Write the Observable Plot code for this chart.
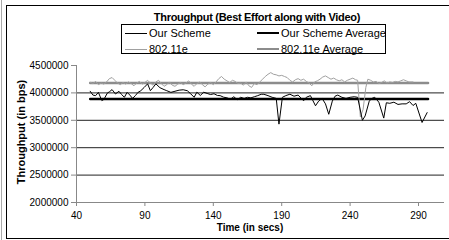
<!DOCTYPE html>
<html>
<head>
<meta charset="utf-8">
<script src="https://cdn.jsdelivr.net/npm/d3@7"></script>
<script src="https://cdn.jsdelivr.net/npm/@observablehq/plot@0.6"></script>
<style>
  html, body { margin: 0; padding: 0; background: #fff; overflow: hidden; }
  #wrap { position: relative; width: 449px; height: 240px; overflow: hidden; font-family: "Liberation Sans", Arial, sans-serif; color: #000; }
  #wrap svg { position: absolute; left: 0; top: 0; }
  .abs { position: absolute; white-space: nowrap; }
  .title { left: 257px; top: 11px; transform: translateX(-50%); font-weight: bold; font-size: 11px; letter-spacing: -0.3px; line-height: 13px; }
  .ylab { left: 21px; top: 132px; transform: translate(-50%, -50%) rotate(-90deg); font-weight: bold; font-size: 11px; line-height: 12px; }
  .xlab { left: 250px; top: 222px; transform: translateX(-50%); font-weight: bold; font-size: 10px; line-height: 12px; }
  .legend { left: 121px; top: 24px; width: 263px; height: 28px; border: 1px solid #000; background: #fff; }
  .lt { font-size: 11px; line-height: 12px; }
  .sw { position: absolute; height: 0; }
</style>
</head>
<body>
<div id="wrap">
  <div class="abs" style="left:1px;top:0;width:1px;height:240px;background:#aaa"></div>
  <div class="abs" style="left:6px;top:5px;width:450px;height:232px;border-left:1px solid #000;border-top:1px solid #000;border-bottom:1px solid #000;"></div>
</div>
<script>
// ---- data ----
const xTicks = [40, 90, 140, 190, 240, 290];
const yTicks = [2000000, 2500000, 3000000, 3500000, 4000000, 4500000];
const gridValues = [2500000, 3000000, 3500000, 4000000];

const schemeTime = [50,52,54,56,58.5,60,62.5,64,66,68.5,71,73,75,77,79,81,83,85,87,89.5,92,94,96,98,101,104,106,109,112,115,118,121,123.5,126,128,130.5,133,135.5,138,140.5,143,145,147.5,150,152.5,155,157.5,160,162.5,165,167.5,170,172.5,175,177,180,183,186,188,190.5,193,196,199,202,206,208,211,214.7,217,219.5,222,224.4,227,229,231,234,237,240,243,245.5,249,251,254,256,258,261,264.6,266.5,269,272,275,278,281,283.5,286,288,292.6,296.3];
const schemeValue = [4030000,3960000,3950000,4010000,3860000,3880000,3995000,4020000,4060000,3980000,4030000,3970000,3920000,4010000,3960000,3900000,3950000,4010000,4040000,4100000,4165000,4040000,4100000,4165000,4095000,4060000,4040000,4010000,4030000,4050000,4057000,4040000,3983000,3920000,4013000,3953000,4013000,3990000,3970000,3985000,3953000,3950000,3922000,3910000,3885000,3930000,3876000,3920000,3900000,3920000,3910000,3930000,3950000,3975000,3975000,3950000,3920000,3900000,3430000,3920000,3950000,3976000,3940000,3960000,3856000,3920000,3950000,3765000,3850000,3900000,3800000,3610000,3850000,3940000,3960000,3920000,3900000,3920000,3930000,3920000,3500000,3580000,3850000,3900000,3920000,3830000,3540000,3820000,3810000,3830000,3790000,3800000,3800000,3840000,3770000,3810000,3460000,3640000];

const ieeeTime = [50,52,54,56,58,60,62,64,66,68,70,72,74,76,78,80,82,84,86,88,90,92,94,96,98,100,102,104,106,108,110,112,114,116,118,120,122,124,126,128,130,132,134,136,138,140,142,144,146,148,150,152,154,156,158,160,162,164,166,168,170,172,174,176,178,180,182,184,186,188,190,192,194,196,198,200,202,204,206,208,210,212,214,216,218,220,222,224,226,228,230,232,234,236,238,240,242,244,245.5,247.5,249.5,251.5,253,255,257,259,261,263,265,267,269,271,273,275,277,279,281,283,286];
const ieeeValue = [4195000,4170000,4210000,4150000,4180000,4160000,4200000,4260000,4280000,4230000,4180000,4150000,4190000,4160000,4200000,4170000,4130000,4180000,4210000,4160000,4190000,4230000,4180000,4140000,4200000,4230000,4170000,4120000,4150000,4200000,4140000,4120000,4160000,4190000,4150000,4180000,4220000,4160000,4120000,4170000,4200000,4150000,4110000,4160000,4190000,4150000,4200000,4260000,4300000,4250000,4220000,4190000,4230000,4210000,4170000,4180000,4140000,4200000,4130000,4100000,4170000,4150000,4200000,4250000,4300000,4340000,4370000,4340000,4330000,4310000,4320000,4300000,4280000,4230000,4200000,4240000,4260000,4230000,4250000,4210000,4180000,4130000,4200000,4220000,4250000,4290000,4310000,4280000,4250000,4270000,4240000,4220000,4240000,4200000,4230000,4250000,4270000,4240000,4230000,3560000,3700000,4100000,4250000,4230000,4200000,4210000,4170000,4190000,4220000,4180000,4200000,4190000,4210000,4200000,4220000,4240000,4220000,4200000,4200000];

const averageSpan = [50, 297];
const schemeAverage = 3890000;
const ieeeAverage = 4180000;

const seriesNames = ["Our Scheme", "Our Scheme Average", "802.11e", "802.11e Average"];
const titleText = "Throughput (Best Effort along with Video)";
const xLabel = "Time (in secs)";
const yLabel = "Throughput (in bps)";

// ---- build ----
const scheme = schemeTime.map((t, i) => ({t, v: schemeValue[i]}));
const ieee = ieeeTime.map((t, i) => ({t, v: ieeeValue[i]}));
const schemeAvg = averageSpan.map(t => ({t, v: schemeAverage}));
const ieeeAvg = averageSpan.map(t => ({t, v: ieeeAverage}));

const chart = Plot.plot({
  width: 449,
  height: 240,
  marginLeft: 76,
  marginRight: 5,
  marginTop: 65,
  marginBottom: 38,
  style: {fontFamily: "'Liberation Sans', Arial, sans-serif", fontSize: "10px", background: "transparent", color: "#000", overflow: "visible"},
  x: {domain: [40, 309]},
  y: {domain: [2000000, 4500000]},
  marks: [
    Plot.ruleY(gridValues, {stroke: "#222", strokeWidth: 1}),
    Plot.ruleY([yTicks[0]], {stroke: "#888", strokeWidth: 1}),
    Plot.ruleX([xTicks[0]], {stroke: "#888", strokeWidth: 1}),
    Plot.axisY({ticks: yTicks, tickFormat: d => String(d), tickSize: 5, tickPadding: 3, stroke: "#888", fill: "#000", label: null, style: {letterSpacing: "-0.5px"}}),
    Plot.axisX({ticks: xTicks, tickSize: 4, tickPadding: 5, stroke: "#888", fill: "#000", label: null, style: {letterSpacing: "-0.5px"}}),
    Plot.line(ieeeAvg, {x: "t", y: "v", stroke: "#8c8c8c", strokeWidth: 2.5}),
    Plot.line(schemeAvg, {x: "t", y: "v", stroke: "#000", strokeWidth: 2.5}),
    Plot.line(ieee, {x: "t", y: "v", stroke: "#a0a0a0", strokeWidth: 1}),
    Plot.line(scheme, {x: "t", y: "v", stroke: "#000", strokeWidth: 1})
  ]
});

const wrap = document.getElementById("wrap");
wrap.appendChild(chart);

function addDiv(cls, text, style) {
  const d = document.createElement("div");
  d.className = "abs " + cls;
  if (text != null) d.textContent = text;
  if (style) d.setAttribute("style", style);
  wrap.appendChild(d);
  return d;
}
addDiv("title", titleText);
addDiv("ylab", yLabel);
addDiv("xlab", xLabel);

const legend = addDiv("legend", null);
const legendItems = [
  {name: seriesNames[0], color: "#000", w: 1, col: 0, row: 0},
  {name: seriesNames[1], color: "#000", w: 2, col: 1, row: 0},
  {name: seriesNames[2], color: "#a0a0a0", w: 1, col: 0, row: 1},
  {name: seriesNames[3], color: "#8c8c8c", w: 2, col: 1, row: 1}
];
legendItems.forEach(it => {
  const left = it.col === 0 ? 3 : 135;
  const cy = it.row === 0 ? 8 : 24;
  const sw = document.createElement("div");
  sw.className = "sw";
  sw.setAttribute("style", `left:${left}px;top:${cy - Math.floor(it.w/2)}px;width:22px;border-top:${it.w}px solid ${it.color};`);
  legend.appendChild(sw);
  const tx = document.createElement("div");
  tx.className = "abs lt";
  tx.setAttribute("style", `left:${left + 24}px;top:${cy - 6}px;`);
  tx.textContent = it.name;
  legend.appendChild(tx);
});
</script>
</body>
</html>
